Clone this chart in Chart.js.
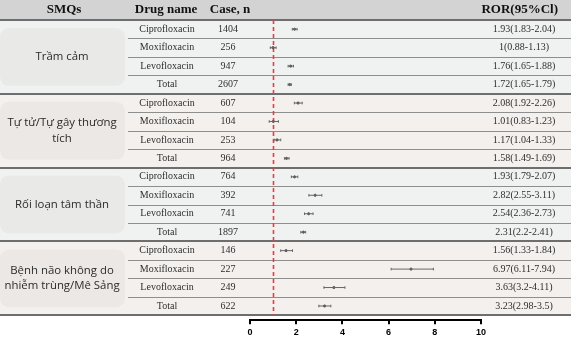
<!DOCTYPE html>
<html>
<head>
<meta charset="utf-8">
<script src="https://cdn.jsdelivr.net/npm/chart.js@4.4.1/dist/chart.umd.min.js"></script>
<style>
    html, body { margin: 0; padding: 0; background: #fff; }
    #wrap { width: 571px; height: 350px; }
</style>
</head>
<body>
<div id="wrap"><canvas id="forest" width="571" height="350"></canvas></div>
<script>
// Forest plot data - one entry per table row (4 drugs x 4 SMQ groups)
const SMQS = ['Trầm cảm', 'Tự tử/Tự gây thương\ntích', 'Rối loạn tâm thần', 'Bệnh não không do\nnhiễm trùng/Mê Sảng'];
const DRUGS = ['Ciprofloxacin', 'Moxifloxacin', 'Levofloxacin', 'Total'];
const CASES = [1404, 256, 947, 2607, 607, 104, 253, 964, 764, 392, 741, 1897, 146, 227, 249, 622];
const ROR = [1.93, 1, 1.76, 1.72, 2.08, 1.01, 1.17, 1.58, 1.93, 2.82, 2.54, 2.31, 1.56, 6.97, 3.63, 3.23];
const LOWER = [1.83, 0.88, 1.65, 1.65, 1.92, 0.83, 1.04, 1.49, 1.79, 2.55, 2.36, 2.2, 1.33, 6.11, 3.2, 2.98];
const UPPER = [2.04, 1.13, 1.88, 1.79, 2.26, 1.23, 1.33, 1.69, 2.07, 3.11, 2.73, 2.41, 1.84, 7.94, 4.11, 3.5];
const X_TICKS = [0, 2, 4, 6, 8, 10];
const REF_LINE = 1;

const GROUP_BG = ['#f0f2f2', '#f4f0ee'];
const BOX_BG = ['#e9e9e8', '#ece8e5'];
const SERIF = '"Liberation Serif", "Times New Roman", serif';
const SANS = '"Open Sans", "Noto Sans", sans-serif';

// Draw the table behind the plot (backgrounds, lines, text)
const tablePlugin = {
    id: 'forestTable',
    beforeDraw(chart) {
        const { ctx, width, height } = chart;
        const y = chart.scales.y;
        const rowTop = i => y.getPixelForValue(i);
        const rowMid = i => y.getPixelForValue(i + 0.5);

        ctx.save();
        ctx.fillStyle = '#fff';
        ctx.fillRect(0, 0, width, height);

        // header
        ctx.fillStyle = '#d3d3d3';
        ctx.fillRect(0, 0, width, rowTop(0));

        // group backgrounds and name boxes
        SMQS.forEach((name, g) => {
            const top = rowTop(g * 4), bot = rowTop(g * 4 + 4);
            ctx.fillStyle = GROUP_BG[g % 2];
            ctx.fillRect(0, top, width, bot - top);
            ctx.fillStyle = BOX_BG[g % 2];
            ctx.beginPath();
            ctx.roundRect(0, top + 8, 125, bot - top - 16, 9);
            ctx.fill();

            const lines = name.split('\n');
            ctx.fillStyle = '#2b2b2b';
            ctx.font = '11.4px ' + SANS;
            ctx.textAlign = 'center';
            ctx.textBaseline = 'middle';
            const mid = (top + bot) / 2;
            lines.forEach((ln, k) => {
                ctx.fillText(ln, 62, mid + (k - (lines.length - 1) / 2) * 15.5);
            });
        });

        // row lines inside groups
        ctx.strokeStyle = '#8e8e8e';
        ctx.lineWidth = 1.2;
        for (let i = 1; i < CASES.length; i++) {
            if (i % 4 === 0) continue;
            const py = Math.round(rowTop(i)) + 0.5;
            ctx.beginPath();
            ctx.moveTo(128, py);
            ctx.lineTo(width, py);
            ctx.stroke();
        }

        // group lines
        ctx.strokeStyle = '#6e6e6e';
        ctx.lineWidth = 2;
        for (let i = 0; i <= CASES.length; i += 4) {
            const py = Math.round(rowTop(i));
            ctx.beginPath();
            ctx.moveTo(0, py);
            ctx.lineTo(width, py);
            ctx.stroke();
        }

        // header text
        ctx.fillStyle = '#111';
        ctx.font = 'bold 13px ' + SERIF;
        ctx.textBaseline = 'middle';
        const hy = rowTop(0) / 2;
        ctx.textAlign = 'center';
        ctx.fillText('SMQs', 64, hy);
        ctx.fillText('Drug name', 166, hy);
        ctx.fillText('Case, n', 230, hy);
        ctx.textAlign = 'right';
        ctx.fillText('ROR(95%Cl)', 558, hy);

        // row text
        ctx.font = '10px ' + SERIF;
        ctx.fillStyle = '#2e2e2e';
        ctx.textAlign = 'center';
        CASES.forEach((n, i) => {
            const py = rowMid(i);
            ctx.fillText(DRUGS[i % 4], 167, py);
            ctx.fillText(String(n), 228, py);
            ctx.fillText(`${ROR[i]}(${LOWER[i]}-${UPPER[i]})`, 524, py);
        });
        ctx.restore();
    },
    beforeDatasetsDraw(chart) {
        const { ctx } = chart;
        const x = chart.scales.x, y = chart.scales.y;
        const px = Math.round(x.getPixelForValue(REF_LINE)) + 0.5;
        ctx.save();
        ctx.strokeStyle = '#ee3b3b';
        ctx.lineWidth = 1.6;
        ctx.setLineDash([4, 3]);
        ctx.beginPath();
        ctx.moveTo(px, y.getPixelForValue(0));
        ctx.lineTo(px, y.getPixelForValue(CASES.length));
        ctx.stroke();
        ctx.restore();
    }
};

// one small line dataset per row for the confidence interval
const ciSets = CASES.map((n, i) => ({
    type: 'line',
    data: [{ x: LOWER[i], y: i + 0.5 }, { x: UPPER[i], y: i + 0.5 }],
    borderColor: '#666',
    borderWidth: 1,
    pointStyle: 'line',
    rotation: 90,
    pointRadius: 1.3,
    pointBorderColor: '#666',
    pointBorderWidth: 1,
    pointHoverRadius: 0
}));

const pointSet = {
    type: 'scatter',
    data: ROR.map((v, i) => ({ x: v, y: i + 0.5 })),
    backgroundColor: '#555',
    borderColor: '#555',
    pointRadius: 1.1
};

new Chart(document.getElementById('forest'), {
    data: { datasets: [...ciSets, pointSet] },
    options: {
        responsive: false,
        animation: false,
        devicePixelRatio: 1,
        layout: { padding: { left: 250, right: 90, top: 20, bottom: 9 } },
        plugins: { legend: { display: false }, tooltip: { enabled: false } },
        scales: {
            x: {
                type: 'linear',
                min: 0,
                max: 10,
                afterBuildTicks: axis => { axis.ticks = X_TICKS.map(v => ({ value: v })); },
                grid: { drawOnChartArea: false, drawTicks: true, tickLength: 4, color: '#000', lineWidth: 2 },
                border: { color: '#000', width: 2 },
                ticks: {
                    color: '#000',
                    padding: 3,
                    maxRotation: 0,
                    font: { family: '"Liberation Sans", Arial, sans-serif', size: 9, weight: 'bold' }
                }
            },
            y: {
                type: 'linear',
                reverse: true,
                min: 0,
                max: 16.27,
                display: false
            }
        }
    },
    plugins: [tablePlugin]
});
</script>
</body>
</html>
